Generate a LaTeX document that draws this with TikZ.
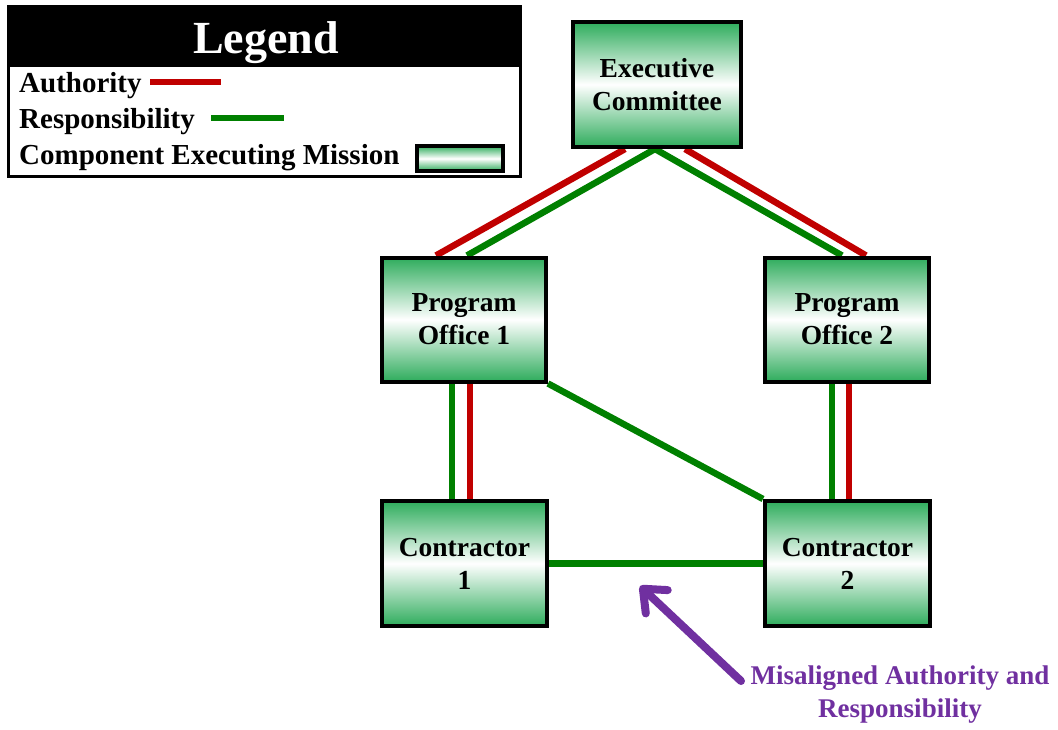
\documentclass[tikz,border=0pt]{standalone}
\usepackage{fontspec}
\setmainfont{Liberation Serif}
\usetikzlibrary{arrows.meta,calc,backgrounds}
\definecolor{boxgreen}{RGB}{46,172,92}
\definecolor{authred}{RGB}{192,0,0}
\definecolor{respgreen}{RGB}{0,128,0}
\definecolor{notepurple}{RGB}{112,48,160}
\begin{document}
\begin{tikzpicture}[x=1pt,y=-1pt,
  unitbox/.style={draw=black, line width=4pt, top color=boxgreen, bottom color=boxgreen,
    middle color=white, minimum width=164pt, minimum height=124pt, inner sep=0pt,
    align=center, font=\bfseries\fontsize{27.5}{33}\selectfont},
  authline/.style={draw=authred, line width=6.5pt},
  respline/.style={draw=respgreen, line width=6.5pt},
  legtext/.style={anchor=base west, inner sep=0pt, font=\bfseries\fontsize{29}{33}\selectfont},
  swatch/.style={draw=black, line width=4pt, top color=boxgreen, bottom color=boxgreen,
    middle color=white, minimum width=86pt, minimum height=25pt, inner sep=0pt},
  notetext/.style={align=center, text=notepurple, inner sep=0pt,
    font=\bfseries\fontsize{27}{33}\selectfont},
  misarrow/.style={draw=notepurple, line width=8pt, line cap=round,
    -{Straight Barb[length=19pt,width=32pt,round]}}
]
\useasboundingbox (0,0) rectangle (1058,729);

% ---- legend ----
\fill[black] (7,5) rectangle (522,67);
\draw[line width=3pt] (8.5,6.5) rectangle (520.5,176.5);
\node[text=white, inner sep=0pt, anchor=base, font=\bfseries\fontsize{46}{50}\selectfont] (lghead) at (266,53) {Legend};
\node[legtext] (lgauth) at (19,92) {Authority};
\draw[authline] (150,82) -- (221,82);
\node[legtext] (lgresp) at (19,128) {Responsibility};
\draw[respline] (211,118) -- (284,118);
\node[legtext] (lgcomp) at (19,164) {Component Executing Mission};
\node[swatch] (lgswatch) at (460,158.5) {};

% ---- organisation units ----
\node[unitbox, minimum width=168pt, minimum height=125pt] (ec) at (657,84.5) {Executive\\Committee};
\node[unitbox] (po1) at (464,319.5) {Program\\Office 1};
\node[unitbox] (po2) at (847,319.5) {Program\\Office 2};
\node[unitbox, minimum width=165pt, minimum height=125pt] (c1) at (464.5,563.5) {Contractor\\1};
\node[unitbox, minimum width=165pt, minimum height=125pt] (c2) at (847.5,563.5) {Contractor\\2};

% ---- authority / responsibility links ----
\begin{pgfonlayer}{background}
  \draw[authline] ($(ec.south)+(-32,0)$) -- ($(po1.north)+(-28,0)$);
  \draw[respline] ($(ec.south)+(-2,0)$) -- ($(po1.north)+(3,0)$);
  \draw[respline] ($(ec.south)+(-2,0)$) -- ($(po2.north)+(-5,0)$);
  \draw[authline] ($(ec.south)+(28,0)$) -- ($(po2.north)+(19,0)$);

  \draw[respline] ($(po1.south)+(-12,0)$) -- ($(c1.north)+(-12.5,0)$);
  \draw[authline] ($(po1.south)+(6,0)$) -- ($(c1.north)+(5.5,0)$);
  \draw[respline] ($(po2.south)+(-15,0)$) -- ($(c2.north)+(-15.5,0)$);
  \draw[authline] ($(po2.south)+(2,0)$) -- ($(c2.north)+(1.5,0)$);

  \draw[respline] (po1.south east) -- (c2.north west);
  \draw[respline] (c1.east) -- (c2.west);
\end{pgfonlayer}

% ---- annotation ----
\node[notetext] (note) at (900,695) {Misaligned Authority and\\Responsibility};
\coordinate (arrtail) at (741,681);
\coordinate (arrtip) at (640,586);
\draw[misarrow] (arrtail) -- (arrtip);
\end{tikzpicture}
\end{document}
